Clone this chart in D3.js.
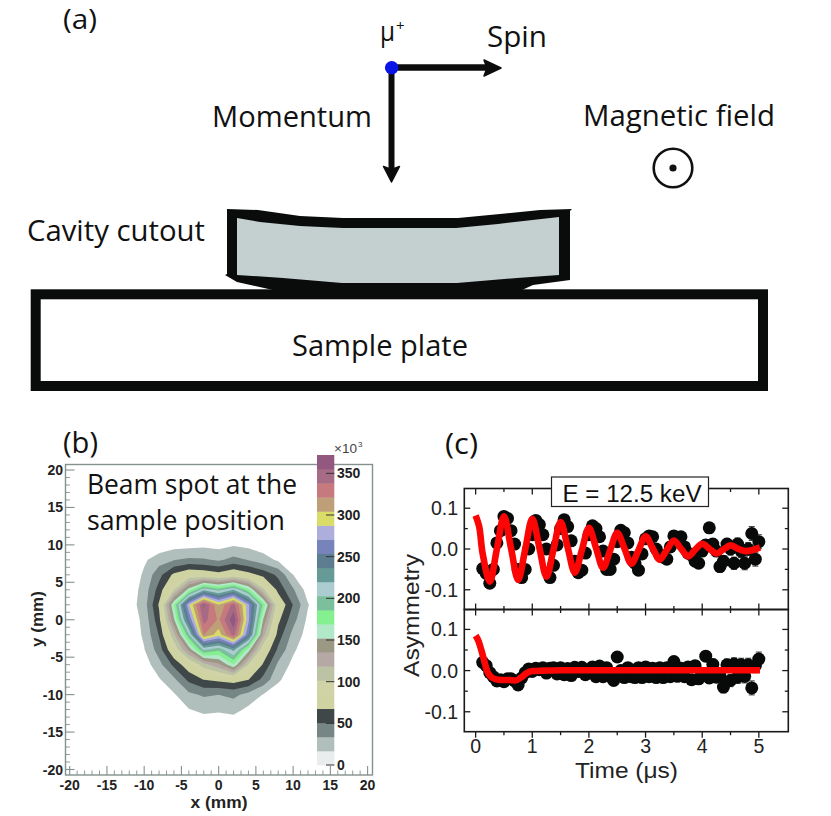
<!DOCTYPE html>
<html><head><meta charset="utf-8">
<script src="https://cdn.jsdelivr.net/npm/d3@7"></script>
<style>html,body{margin:0;padding:0;background:#fff}svg{display:block}</style></head>
<body><svg id="c" width="831" height="816"></svg>
<script>
// ---------- panel (c) data ----------
const topAsym = [-.048,-.06,-.084,-.05,.015,.045,.08,.075,.045,.012,-.05,-.07,-.05,0,.035,.07,.06,.035,0,-.07,-.04,.01,.05,.072,.055,.02,-.03,-.058,-.052,-.01,.035,.057,.05,.03,-.005,-.05,-.05,-.025,.018,.046,.04,.015,-.02,-.035,-.052,-.012,.025,.032,.03,0,-.015,-.02,-.025,.005,.032,.02,.03,.005,-.01,-.015,-.03,-.035,-.005,.01,.052,.012,-.005,-.043,-.03,.012,0,-.035,.012,-.005,-.035,0,.038,-.025,.018];
const bottomAsym = [.02,.012,-.005,-.015,-.025,-.022,-.027,-.02,-.02,-.025,-.035,-.018,-.005,.004,-.002,.006,.002,.007,-.006,.006,.007,-.008,.007,-.01,.005,-.012,.008,-.002,.008,-.01,0,.009,-.015,.011,-.015,.007,-.014,-.024,.033,0,-.017,.007,-.015,-.017,.007,-.017,.009,-.015,.006,-.017,.007,-.017,.007,-.015,.022,-.014,.006,-.015,.009,-.022,.012,-.02,-.009,.035,-.018,.015,-.016,-.012,-.04,.014,-.024,.016,-.016,.014,-.014,.014,-.042,.012,.028];
const errorBars = [.003,.003,.003,.003,.003,.003,.003,.003,.004,.004,.004,.004,.004,.004,.004,.004,.004,.004,.004,.005,.005,.005,.005,.005,.005,.005,.005,.005,.005,.006,.006,.006,.006,.006,.006,.006,.007,.007,.007,.007,.007,.007,.007,.008,.008,.008,.008,.008,.008,.009,.009,.009,.009,.009,.010,.010,.010,.010,.011,.011,.011,.012,.012,.012,.013,.013,.013,.014,.014,.014,.015,.015,.015,.016,.016,.016,.017,.017,.017];
const topFitT = [0,.0625,.125,.25,.375,.5,.625,.75,.875,1,1.125,1.25,1.375,1.5,1.625,1.75,1.875,2,2.125,2.25,2.375,2.5,2.625,2.75,2.875,3,3.125,3.25,3.375,3.5,3.625,3.75,3.875,4,4.125,4.25,4.375,4.5,4.625,4.75,4.875,5.02];
const topFitV = [.082,.055,-.012,-.08,0,.08,.002,-.076,-.001,.074,.004,-.068,-.001,.066,.004,-.058,-.003,.052,.003,-.046,-.003,.04,.002,-.036,-.003,.031,.002,-.026,-.002,.021,.001,-.018,-.002,.013,.001,-.011,-.001,.009,.001,-.005,-.003,.004];
const bottomFitT = [0,.05,.1,.15,.2,.25,.3,.4,.5,.6,.7,.8,.9,1,1.2,1.5,2,3,4,5.02];
const bottomFitV = [.085,.072,.05,.025,0,-.012,-.018,-.022,-.023,-.023,-.024,-.017,-.006,-.001,0,.001,.001,.001,.001,.001];
const timeTicks = [0,1,2,3,4,5];
const asymTicks = [.1,0,-.1];

// ---------- panel (b) data: beam intensity (thousands) on a 2 mm grid ----------
const gridX = [-14,-12,-10,-8,-6,-4,-2,0,2,4,6,8,10,12,14];
const gridRows = [
 [0,0,0,0,0,0,0,0,0,0,0,0,0,0,0],              // y=14
 [0,0,0,0,0,0,0,0,0,0,0,0,0,0,0],              // y=12
 [0,0,3,5,10,11,13,11,15,12,8,3,0,0,0],         // y=10
 [0,2,14,26,33,37,36,31,39,33,24,14,6,0,0],     // y=8
 [0,3,20,45,72,85,82,75,85,75,62,47,17,5,0],    // y=6
 [0,6,24,58,100,160,215,195,220,175,105,62,36,9,0], // y=4
 [0,8,26,70,170,285,358,305,345,275,180,85,50,18,0], // y=2
 [0,5,22,62,150,255,345,318,368,275,150,72,40,13,0], // y=0
 [0,4,20,52,115,200,322,295,345,255,125,60,28,10,0], // y=-2
 [0,1,16,42,85,140,205,190,225,160,85,47,20,5,0],   // y=-4
 [0,0,8,28,55,80,110,130,168,100,65,30,12,1,0],     // y=-6
 [0,0,2,15,30,55,68,72,76,68,45,20,5,0,0],          // y=-8
 [0,0,0,6,15,30,36,34,38,28,16,6,0,0,0],            // y=-10
 [0,0,0,0,4,16,22,20,23,13,6,0,0,0,0],              // y=-12
 [0,0,0,0,0,2,5,4,5,2,0,0,0,0,0]                    // y=-14
];
const gridY = [14,12,10,8,6,4,2,0,-2,-4,-6,-8,-10,-12,-14];
const bandColors = ["#e9eded","#b1bfbc","#768684","#3f4748","#cfd3a2","#cfd3a6","#bcc2a4","#b6a8a4","#9b9884","#b0e8c8","#85f090","#7cbf9c","#abcdd2","#669a97","#5d7d90","#7784bb","#adaedc","#d9dc66","#bf9f78","#c67a7d","#a66b85","#93587f"];
const bandStep = 16.9;
const barTicks = [0,50,100,150,200,250,300,350];
const mmTicks = [-20,-15,-10,-5,0,5,10,15,20];

// ---------- panel (a) schematic outlines ----------
const cavityOuter = [[227,209],[258,210],[300,216],[343,218],[458,218],[500,214],[540,210],[572,209],[570,211],[570,280],[533,285],[522,290],[273,290],[237,282],[225,275],[227,274]];
const cavityInner = [[237,218],[260,222],[300,226],[343,228],[456,228],[498,224],[559,217],[559,275],[517,278],[457,283],[342,283],[283,278],[237,275]];

const svg = d3.select("#c");
const MY = "'Open Sans','Noto Sans',sans-serif", AR = "'Liberation Sans',Arial,sans-serif";
function label(x,y,s,size,font,opts={}){
  const t = svg.append("text").attr("x",x).attr("y",y).text(s)
   .attr("font-size",size).attr("font-family",font).attr("fill",opts.fill||"#111")
   .attr("font-weight",opts.weight||400).attr("text-anchor",opts.anchor||"start");
  if(opts.len){t.attr("textLength",opts.len).attr("lengthAdjust","spacingAndGlyphs");}
  if(opts.rot!==undefined){t.attr("transform",`rotate(${opts.rot} ${x} ${y})`);}
  return t;
}
const lineGen = d3.line();

// ===== panel (a) =====
svg.append("rect").attr("x",35.7).attr("y",294.3).attr("width",727.3).attr("height",91.7)
  .attr("fill","#fff").attr("stroke","#0a0c0c").attr("stroke-width",10);
svg.append("path").attr("d",lineGen(cavityOuter)+"Z").attr("fill","#0a0c0c");
svg.append("path").attr("d",lineGen(cavityInner)+"Z").attr("fill","#c4cfcf");
label(63,29,"(a)",28,MY,{len:34});
label(292,356,"Sample plate",30,MY,{len:176});
label(27,241,"Cavity cutout",30,MY,{len:178});
label(212,127,"Momentum",30,MY,{len:160});
label(487,47,"Spin",30,MY,{len:60});
label(583,126,"Magnetic field",30,MY,{len:192});
label(380,41,"μ",27,MY,{len:15});
label(396,31,"+",15,MY);
svg.append("line").attr("x1",391.5).attr("y1",67.5).attr("x2",488).attr("y2",67.5).attr("stroke","#0c0c0c").attr("stroke-width",6.5);
svg.append("path").attr("d","M501,68L484,60L487,68L484,76Z").attr("fill","#0c0c0c").attr("stroke","#0c0c0c").attr("stroke-width",1.5).attr("stroke-linejoin","round");
svg.append("line").attr("x1",391.5).attr("y1",67.5).attr("x2",391.5).attr("y2",172).attr("stroke","#0c0c0c").attr("stroke-width",6);
svg.append("path").attr("d","M391.5,182L383.5,166.5L391.5,169.5L399.5,166.5Z").attr("fill","#0c0c0c").attr("stroke","#0c0c0c").attr("stroke-width",1.5).attr("stroke-linejoin","round");
svg.append("circle").attr("cx",391.7).attr("cy",67.7).attr("r",6.8).attr("fill","#0a14e6");
svg.append("circle").attr("cx",673).attr("cy",168).attr("r",19.3).attr("fill","none").attr("stroke","#111").attr("stroke-width",2.6);
svg.append("circle").attr("cx",673).attr("cy",168).attr("r",3.6).attr("fill","#111");

// ===== panel (b) =====
label(63,453,"(b)",30,MY,{len:35});
const xMm = d3.scaleLinear().domain([-20,20]).range([69.7,367.6]);
const yMm = d3.scaleLinear().domain([-20,20]).range([769.5,470]);
const frameC="#84918f";
svg.append("rect").attr("x",65.5).attr("y",464.5).attr("width",307).attr("height",310.5).attr("fill","#fff").attr("stroke",frameC).attr("stroke-width",1.4);

const defs = svg.append("defs");
defs.append("filter").attr("id","soft").append("feGaussianBlur").attr("stdDeviation",0.45);
const nx=gridX.length, ny=gridY.length;
const flat = gridRows.flat();
const levels = bandColors.map((_,i)=>i*bandStep).slice(1);
const contours = d3.contours().size([nx,ny]).smooth(true).thresholds(levels)(flat);
const gx = d3.scaleLinear().domain([0.5,nx-0.5]).range([xMm(gridX[0]),xMm(gridX[nx-1])]);
const gy = d3.scaleLinear().domain([0.5,ny-0.5]).range([yMm(gridY[0]),yMm(gridY[ny-1])]);
const proj = d3.geoTransform({point(x,y){this.stream.point(gx(x),gy(y));}});
const geo = d3.geoPath(proj);
svg.append("g").attr("filter","url(#soft)").selectAll("path").data(contours).join("path")
  .attr("d",geo).attr("fill",(d,i)=>bandColors[i+1]);

// ticks
const tk = svg.append("g").attr("stroke",frameC);
d3.range(-20,21).forEach(v=>{
  const major = v%5===0;
  tk.append("line").attr("x1",xMm(v)).attr("x2",xMm(v)).attr("y1",775).attr("y2",775-(major?9:4.5)).attr("stroke-width",major?1.1:.9);
  tk.append("line").attr("y1",yMm(v)).attr("y2",yMm(v)).attr("x1",65.5).attr("x2",65.5+(major?9:4.5)).attr("stroke-width",major?1.1:.9);
});
mmTicks.forEach(v=>{
  label(xMm(v),790,v,14,AR,{weight:700,anchor:"middle",fill:"#222"});
  label(63,yMm(v)+5,v,14,AR,{weight:700,anchor:"end",fill:"#222"});
});
label(190.5,808,"x (mm)",17,AR,{weight:700,fill:"#222",len:57});
label(43,619,"y (mm)",17,AR,{weight:700,anchor:"middle",fill:"#222",rot:-90});

// colour bar
const yBar = d3.scaleLinear().domain([0,372]).range([765,455]);
svg.append("g").selectAll("rect").data(bandColors).join("rect")
  .attr("x",317).attr("width",17.3)
  .attr("y",(d,i)=>yBar((i+1)*372/22)).attr("height",(d,i)=>yBar(i*372/22)-yBar((i+1)*372/22)+.4)
  .attr("fill",d=>d);
barTicks.forEach(v=>{
  svg.append("line").attr("x1",326).attr("x2",334.3).attr("y1",yBar(v)).attr("y2",yBar(v)).attr("stroke","#333").attr("stroke-width",1);
  label(337,yBar(v)+5,v,14,AR,{weight:700,fill:"#222"});
});
label(334,453,"×10",13.5,AR,{fill:"#444"});
label(358,447,"3",8,AR,{fill:"#444"});
label(87,494,"Beam spot at the",28,MY,{len:210});
label(87,530,"sample position",28,MY,{len:198});

// ===== panel (c) =====
label(445,454,"(c)",30,MY,{len:33});
const xT = d3.scaleLinear().domain([-0.2,5.52]).range([464.3,788.3]);
const panels = [
 {name:"top",y0:488.5,y1:609.5,data:topAsym,fitT:topFitT,fitV:topFitV},
 {name:"bottom",y0:609.5,y1:731.7,data:bottomAsym,fitT:bottomFitT,fitV:bottomFitV}
];
const times = d3.range(0,79).map(i=>0.125+i*0.0625);
const axC="#1a1a1a";
panels.forEach((p,pi)=>{
  const y=d3.scaleLinear().domain([-.1484,.1484]).range([p.y1,p.y0]);
  const g=svg.append("g");
  times.forEach((t,i)=>{
    const v=p.data[i], e=errorBars[i];
    g.append("path").attr("d",`M${xT(t)-3},${y(v+e)}H${xT(t)+3}M${xT(t)},${y(v+e)}V${y(v-e)}M${xT(t)-3},${y(v-e)}H${xT(t)+3}`).attr("stroke","#222").attr("stroke-width",.9).attr("fill","none");
  });
  g.selectAll("circle").data(p.data).join("circle").attr("cx",(d,i)=>xT(times[i])).attr("cy",d=>y(d)).attr("r",6.5).attr("fill","#080a0a");
  const fit=d3.line().x(d=>xT(d[0])).y(d=>y(d[1])).curve(pi===0?d3.curveCatmullRom.alpha(.5):d3.curveMonotoneX);
  g.append("path").attr("d",fit(p.fitT.map((t,i)=>[t,p.fitV[i]]))).attr("fill","none").attr("stroke","#fb0505").attr("stroke-width",6.6).attr("stroke-linejoin","round");
  g.append("rect").attr("x",464.3).attr("y",p.y0).attr("width",324).attr("height",p.y1-p.y0).attr("fill","none").attr("stroke",axC).attr("stroke-width",1.6);
  const tl=g.append("g").attr("stroke",axC).attr("stroke-width",1.3);
  [-.1,-.05,0,.05,.1].forEach((v)=>{
    const len=Math.abs(Math.abs(v)-.05)<1e-9?3.5:6;
    tl.append("line").attr("x1",464.3).attr("x2",464.3+len).attr("y1",y(v)).attr("y2",y(v));
    tl.append("line").attr("x1",788.3).attr("x2",788.3-len).attr("y1",y(v)).attr("y2",y(v));
  });
  d3.range(0,5.01,.5).forEach(v=>{
    const len=Number.isInteger(v)?6:3.5;
    tl.append("line").attr("x1",xT(v)).attr("x2",xT(v)).attr("y1",p.y0).attr("y2",p.y0+len);
    if(pi===0) tl.append("line").attr("x1",xT(v)).attr("x2",xT(v)).attr("y1",p.y1).attr("y2",p.y1-len);
    else tl.append("line").attr("x1",xT(v)).attr("x2",xT(v)).attr("y1",p.y1).attr("y2",p.y1+len);
  });
  asymTicks.forEach(v=>label(458,y(v)+7,d3.format(".1f")(v).replace("−","-"),19.5,AR,{anchor:"end",fill:"#222"}));
});
timeTicks.forEach(v=>label(xT(v),753,v,19.5,AR,{anchor:"middle",fill:"#222"}));
label(575,778,"Time (μs)",22,AR,{fill:"#222",len:103});
label(419,677,"Asymmetry",22,AR,{fill:"#222",rot:-90,len:123});
svg.append("rect").attr("x",551.5).attr("y",477).attr("width",157).attr("height",29.5).attr("fill","#fff").attr("stroke","#222").attr("stroke-width",1.2);
label(562.5,501.5,"E = 12.5 keV",23,AR,{fill:"#111",len:139});
</script></body></html>
